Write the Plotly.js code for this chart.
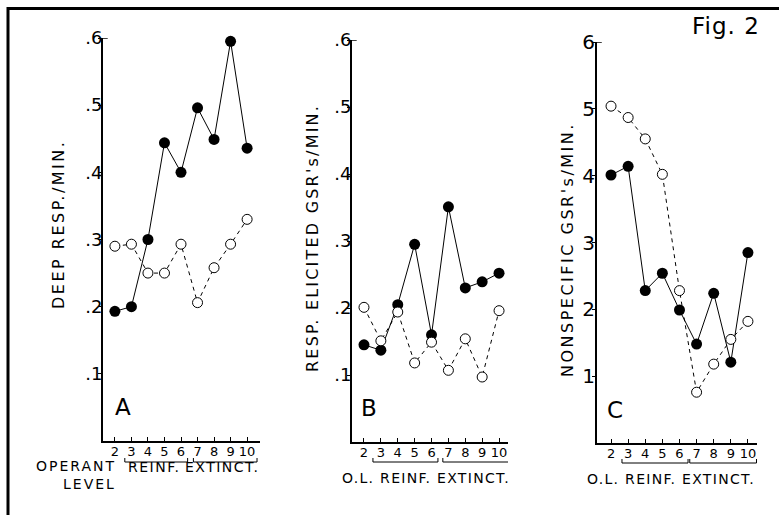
<!DOCTYPE html>
<html>
<head>
<meta charset="utf-8">
<script src="https://cdn.plot.ly/plotly-3.0.1.min.js"></script>
<style>html,body{margin:0;padding:0;background:#fff;}#chart{width:779px;height:515px;}</style>
</head>
<body>
<div id="chart"></div>
<script>
// Sessions (x categories)
const sessions = [2, 3, 4, 5, 6, 7, 8, 9, 10];
const sessionLabels = ["2", "3", "4", "5", "6", "7", "8", "9", "10"];

// Panel A: deep respirations / min
const deepFilled = [0.193, 0.200, 0.300, 0.444, 0.400, 0.496, 0.449, 0.595, 0.436];
const deepOpen   = [0.290, 0.293, 0.250, 0.250, 0.293, 0.206, 0.258, 0.293, 0.330];

// Panel B: respiration-elicited GSR's / min
const elicFilled = [0.145, 0.137, 0.205, 0.295, 0.160, 0.351, 0.230, 0.239, 0.252];
const elicOpen   = [0.201, 0.151, 0.194, 0.118, 0.149, 0.107, 0.154, 0.097, 0.196];

// Panel C: nonspecific GSR's / min
const nonsFilled = [4.01, 4.14, 2.28, 2.54, 1.99, 1.48, 2.24, 1.21, 2.85];
const nonsOpen   = [5.04, 4.87, 4.55, 4.02, 2.28, 0.76, 1.18, 1.55, 1.82];

// Tick labels
const abTickVals = [0.1, 0.2, 0.3, 0.4, 0.5, 0.6];
const abTickText = [".1", ".2", ".3", ".4", ".5", ".6"];
const cTickVals = [1, 2, 3, 4, 5, 6];
const cTickText = ["1", "2", "3", "4", "5", "6"];

const W = 779, H = 515;
const px = v => v / W;
const py = v => (H - v) / H;
const FONT = "DejaVu Sans, sans-serif";

function filled(x, y, xa, ya) {
  return {x: x, y: y, xaxis: xa, yaxis: ya, type: "scatter", mode: "lines+markers",
    line: {color: "#000", width: 1}, marker: {color: "#000", size: 11},
    cliponaxis: false, hoverinfo: "skip"};
}
function open(x, y, xa, ya) {
  return {x: x, y: y, xaxis: xa, yaxis: ya, type: "scatter", mode: "lines+markers",
    line: {color: "#000", width: 1, dash: "4px,4px"},
    marker: {color: "#fff", size: 10, line: {color: "#000", width: 1}},
    cliponaxis: false, hoverinfo: "skip"};
}

const data = [
  filled(sessions, deepFilled, "x", "y"),
  open(sessions, deepOpen, "x", "y"),
  filled(sessions, elicFilled, "x2", "y2"),
  open(sessions, elicOpen, "x2", "y2"),
  filled(sessions, nonsFilled, "x3", "y3"),
  open(sessions, nonsOpen, "x3", "y3")
];

function xax(l, r, range, anchor) {
  return {domain: [px(l), px(r)], range: range, anchor: anchor,
    showline: true, linewidth: 2, linecolor: "#000", showgrid: false, zeroline: false,
    ticks: "inside", ticklen: 4, tickwidth: 1, tickcolor: "#000",
    tickvals: sessions, ticktext: sessionLabels, ticklabelstandoff: -3,
    tickfont: {family: FONT, size: 13, color: "#000"}, fixedrange: true};
}
function yax(bot, top, range, tv, tt, size, anchor, so) {
  return {domain: [py(bot), py(top)], range: range, anchor: anchor,
    showline: true, linewidth: 2, linecolor: "#000", showgrid: false, zeroline: false,
    ticks: "outside", ticklen: 3, tickwidth: 1, tickcolor: "#000",
    tickvals: tv, ticktext: tt, ticklabelstandoff: so,
    tickfont: {family: FONT, size: size, color: "#000"},
    fixedrange: true};
}

function bracket(xref, x1, x2, y) {
  return {type: "path", xref: xref, yref: "paper",
    path: "M " + x1 + "," + py(y - 4) + " L " + x1 + "," + py(y) + " L " + x2 + "," + py(y) + " L " + x2 + "," + py(y - 4),
    line: {color: "#000", width: 1}};
}
function topTick(xdom, yref, yv) {
  return {type: "line", xref: xdom, yref: yref, x0: 0, x1: 0.03, y0: yv, y1: yv,
    line: {color: "#000", width: 1.5}};
}

function txt(text, x, y, size, angle, ls) {
  const t = ls ? '<span style="letter-spacing:' + ls + 'px">' + text + '</span>' : text;
  return {text: t, x: px(x), y: py(y), xref: "paper", yref: "paper",
    showarrow: false, xanchor: "center", yanchor: "middle", textangle: angle || 0,
    font: {family: FONT, size: size, color: "#000"}};
}

const layout = {
  width: W, height: H, margin: {l: 0, r: 0, t: 0, b: 0},
  paper_bgcolor: "#fff", plot_bgcolor: "rgba(0,0,0,0)", showlegend: false,
  xaxis: xax(103, 260, [1.28, 10.78], "y"),
  yaxis: yax(441, 38, [0, 0.6], abTickVals, abTickText, 18, "x", -8),
  xaxis2: xax(352, 508, [1.29, 10.53], "y2"),
  yaxis2: yax(442, 40, [0, 0.6], abTickVals, abTickText, 18, "x2", -8),
  xaxis3: xax(597, 757, [1.18, 10.53], "y3"),
  yaxis3: yax(443, 42, [0, 6], cTickVals, cTickText, 20, "x3", -7),
  shapes: [
    {type: "line", xref: "paper", yref: "paper", x0: px(8), x1: px(8), y0: py(7), y1: py(515), line: {color: "#000", width: 3}},
    {type: "line", xref: "paper", yref: "paper", x0: px(7), x1: px(779), y0: py(8.5), y1: py(8.5), line: {color: "#000", width: 3}},
    bracket("x", 2.6, 6.4, 462), bracket("x", 6.75, 10.6, 462),
    bracket("x2", 2.53, 6.38, 462), bracket("x2", 6.67, 10.6, 462),
    bracket("x3", 2.64, 6.5, 463), bracket("x3", 6.6, 10.5, 463),
    topTick("x domain", "y", 0.6), topTick("x2 domain", "y2", 0.6), topTick("x3 domain", "y3", 6)
  ],
  annotations: [
    txt("Fig. 2", 726, 26, 23, 0, 1),
    txt("A", 123, 407, 23), txt("B", 369, 408, 23), txt("C", 615, 410, 23),
    txt("DEEP RESP./MIN.", 58, 225, 16, -90, 2.5),
    txt("RESP. ELICITED GSR's/MIN.", 313, 238, 16, -90, 2.2),
    txt("NONSPECIFIC GSR's/MIN.", 567, 250, 16, -90, 2.5),
    txt("OPERANT", 76, 466, 14, 0, 2), txt("LEVEL", 89, 484, 14, 0, 2),
    txt("REINF.", 154, 467, 14, 0, 1.5), txt("EXTINCT.", 222, 467, 14, 0, 1.5),
    txt("O.L. REINF. EXTINCT.", 426, 478, 14, 0, 1.3),
    txt("O.L. REINF. EXTINCT.", 671, 479, 14, 0, 1.3)
  ]
};

Plotly.newPlot("chart", data, layout, {staticPlot: true, displayModeBar: false});
</script>
</body>
</html>
